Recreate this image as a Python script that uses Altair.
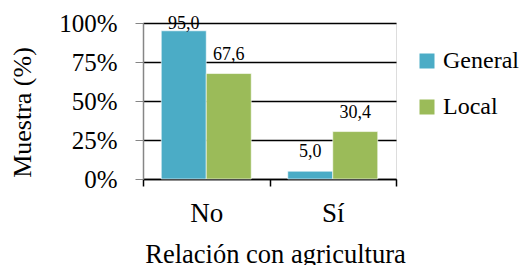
import altair as alt
import pandas as pd

categories = ["No", "Sí"]
series = ["General", "Local"]
general = [95.0, 5.0]
local = [67.6, 30.4]
y_ticks = [0, 25, 50, 75, 100]

rows = []
for i, c in enumerate(categories):
    rows.append({"cat": c, "serie": "General", "v": general[i]})
    rows.append({"cat": c, "serie": "Local", "v": local[i]})
df = pd.DataFrame(rows)

FONT = "Liberation Serif"

xaxis = alt.Axis(
    title="Relación con agricultura",
    labelAngle=0,
    labelFontSize=27,
    labelFont=FONT,
    labelColor="black",
    labelBaseline="alphabetic",
    labelPadding=35,
    tickBand="extent",
    tickSize=7,
    tickColor="black",
    tickWidth=1.5,
    domainColor="black",
    domainWidth=1.5,
    grid=False,
    titleFontSize=26.5,
    titleFont=FONT,
    titleFontWeight="normal",
    titleColor="black",
    titleBaseline="alphabetic",
    titleX=132,
    titleY=83,
)
xscale = alt.Scale(paddingInner=0, paddingOuter=0)
xoscale = alt.Scale(paddingOuter=0.406, paddingInner=0)

yaxis = alt.Axis(
    title="Muestra (%)",
    values=y_ticks,
    labelExpr="datum.value + '%'",
    labelOverlap=False,
    labelFontSize=25,
    labelFont=FONT,
    labelColor="black",
    labelPadding=18,
    tickSize=8,
    tickColor="#868686",
    domainColor="#868686",
    domainWidth=1.5,
    gridColor="black",
    gridWidth=1.3,
    titleFontSize=26,
    titleFont=FONT,
    titleFontWeight="normal",
    titleColor="black",
    titleAnchor="middle",
    titleX=-121,
    titleY=89,
    titleBaseline="middle",
)
yscale = alt.Scale(domain=[0, 100], nice=False)

color = alt.Color(
    "serie:N",
    sort=series,
    scale=alt.Scale(domain=series, range=["#4BACC6", "#9BBB59"]),
    legend=alt.Legend(
        title=None,
        orient="none",
        legendX=272,
        legendY=26,
        symbolType="square",
        symbolSize=225,
        symbolStrokeWidth=0,
        labelFontSize=24,
        labelFont=FONT,
        labelColor="black",
        labelOffset=4,
        rowPadding=22,
    ),
)

base = alt.Chart(df).transform_calculate(
    lbl="replace(format(datum.v, '.1f'), '.', ',')",
    ly="min(datum.v, 87)",
)

bars = base.mark_bar(stroke="white", strokeWidth=0.6).encode(
    x=alt.X("cat:N", sort=categories, scale=xscale, axis=xaxis),
    xOffset=alt.XOffset("serie:N", sort=series, scale=xoscale),
    y=alt.Y("v:Q", scale=yscale, axis=yaxis),
    color=color,
)

labels = base.mark_text(font=FONT, fontSize=18, color="black", baseline="alphabetic", dy=-14).encode(
    x=alt.X("cat:N", sort=categories, scale=xscale, axis=xaxis),
    xOffset=alt.XOffset("serie:N", sort=series, scale=xoscale),
    y=alt.Y("ly:Q", scale=yscale, axis=yaxis),
    text="lbl:N",
)

chart = (
    alt.layer(bars, labels)
    .properties(
        width=253,
        height=156,
        autosize=alt.AutoSizeParams(type="none"),
        padding={"left": 135, "top": 15, "right": 123, "bottom": 86},
    )
    .configure_view(stroke=None)
    .configure(background="white")
)

chart.save("out.html", embed_options={"renderer": "svg", "actions": False})
